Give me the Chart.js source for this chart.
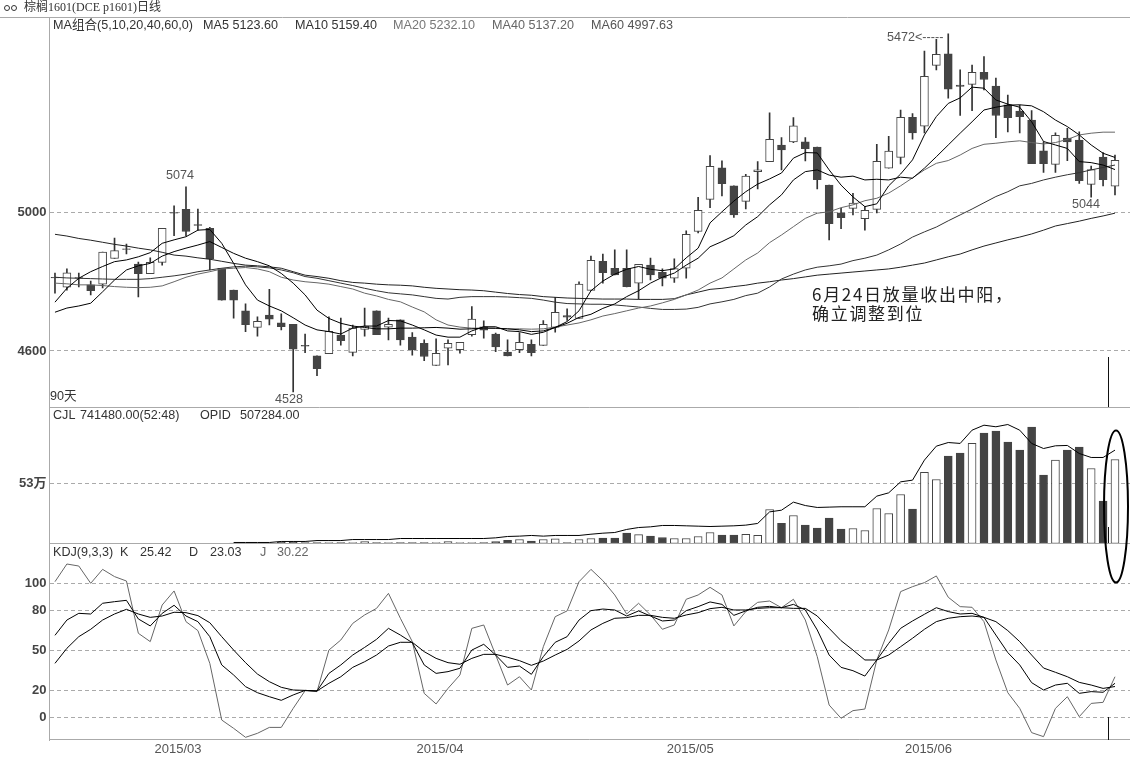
<!DOCTYPE html>
<html>
<head>
<meta charset="utf-8">
<title>棕榈1601 日线</title>
<script src="https://cdn.jsdelivr.net/npm/chart.js@4"></script>
<style>
  html, body { margin: 0; padding: 0; background: #fff; overflow: hidden; }
  #chart { display: block; }
</style>
</head>
<body>
<canvas id="chart" width="1130" height="758"></canvas>
<script>
// candles (index 0 = first of the 90 days)
const opens = [
  4813,4784,4812,4791,4793,4867,4895,4851,4823,4856,
  5000,5009,4965,4954,4839,4776,4716,4668,4704,4681,
  4677,4616,4586,4592,4646,4596,4662,4716,4669,4690,
  4640,4622,4558,4608,4604,4647,4670,4649,4597,4604,
  4619,4616,4668,4702,4694,4775,4859,4839,4839,4796,
  4848,4827,4810,4839,4945,5038,5129,5077,5032,5118,
  5147,5195,5204,5204,5189,5079,4999,5012,4982,5009,
  5128,5159,5275,5249,5425,5458,5368,5370,5405,5365,
  5311,5293,5267,5178,5139,5215,5209,5081,5160,5076];
const closes = [
  4811,4826,4810,4774,4886,4890,4893,4823,4856,4954,
  4998,4945,4963,4866,4747,4747,4676,4686,4692,4670,
  4605,4614,4549,4657,4630,4666,4672,4647,4677,4632,
  4604,4584,4593,4622,4625,4692,4660,4612,4586,4625,
  4595,4677,4712,4698,4793,4862,4826,4820,4786,4850,
  4820,4810,4838,4937,5006,5133,5083,4993,5105,5123,
  5211,5181,5250,5184,5095,4968,4985,5027,5006,5148,
  5177,5275,5230,5393,5457,5356,5364,5405,5384,5280,
  5274,5277,5141,5141,5223,5204,5092,5124,5095,5151];
const highs = [
  4825,4837,4825,4802,4886,4926,4909,4857,4869,4954,
  5019,5074,5010,4957,4839,4776,4736,4699,4778,4707,
  4677,4649,4586,4699,4695,4675,4724,4716,4695,4690,
  4653,4632,4635,4632,4625,4728,4687,4652,4632,4653,
  4632,4688,4755,4722,4800,4874,4880,4892,4892,4850,
  4868,4837,4866,4947,5044,5164,5149,5077,5110,5147,
  5288,5216,5274,5216,5189,5079,5012,5055,5017,5197,
  5220,5296,5286,5466,5500,5516,5412,5426,5450,5388,
  5339,5310,5294,5204,5230,5243,5233,5134,5173,5166];
const lows = [
  4767,4776,4785,4762,4782,4867,4880,4756,4823,4848,
  4933,4933,4949,4834,4747,4695,4656,4643,4675,4661,
  4482,4595,4529,4592,4617,4586,4643,4647,4632,4617,
  4588,4572,4558,4560,4594,4643,4637,4598,4586,4595,
  4586,4616,4654,4688,4694,4775,4796,4820,4785,4750,
  4805,4788,4798,4810,4941,5014,5048,4986,5010,5068,
  5147,5123,5202,5149,5068,4921,4953,4993,4949,4999,
  5128,5140,5212,5230,5412,5330,5280,5294,5354,5216,
  5233,5230,5141,5116,5116,5150,5084,5044,5077,5051];

const ma5 = [
  4741,4781,4810,4829,4844,4858,4863,4872,4884,4911,
  4921,4930,4949,4951,4911,4853,4791,4747,4730,4716,
  4696,4675,4661,4656,4649,4666,4672,4672,4688,4687,
  4675,4661,4646,4640,4640,4658,4670,4670,4658,4656,
  4648,4654,4668,4685,4716,4774,4802,4822,4836,4844,
  4836,4832,4837,4869,4897,4970,5002,5033,5060,5082,
  5097,5114,5157,5173,5172,5123,5079,5045,5017,5025,
  5077,5111,5152,5224,5277,5315,5331,5362,5359,5325,
  5313,5304,5262,5205,5195,5185,5147,5144,5137,5124];
const ma10 = [
  4712,4724,4730,4738,4771,4805,4834,4846,4853,4874,
  4887,4897,4906,4916,4899,4882,4868,4858,4846,4824,
  4796,4762,4718,4694,4680,4672,4668,4664,4664,4666,
  4666,4667,4668,4666,4663,4664,4666,4666,4664,4661,
  4656,4658,4668,4680,4697,4706,4723,4736,4757,4774,
  4796,4813,4825,4848,4868,4901,4916,4933,4964,4988,
  5022,5051,5094,5118,5123,5108,5102,5105,5094,5096,
  5094,5102,5099,5128,5161,5195,5229,5262,5296,5304,
  5310,5311,5308,5291,5267,5248,5224,5195,5171,5159];
const ma20 = [
  4796,4794,4791,4791,4789,4786,4784,4783,4784,4788,
  4800,4813,4822,4829,4837,4839,4841,4837,4829,4813,
  4805,4800,4797,4793,4786,4779,4767,4759,4749,4742,
  4727,4713,4690,4675,4669,4666,4666,4665,4664,4664,
  4663,4664,4669,4675,4681,4690,4701,4708,4716,4724,
  4730,4739,4749,4762,4776,4796,4811,4837,4863,4883,
  4913,4935,4959,4983,4998,5002,5014,5022,5034,5041,
  5056,5077,5100,5123,5142,5150,5166,5185,5197,5200,
  5204,5207,5202,5198,5202,5211,5224,5229,5232,5232];
const ma40 = [
  4813,4811,4810,4809,4808,4807,4807,4807,4809,4813,
  4817,4822,4829,4834,4839,4843,4845,4843,4840,4834,
  4826,4815,4810,4803,4796,4789,4781,4774,4768,4765,
  4762,4757,4752,4750,4755,4757,4757,4757,4756,4754,
  4752,4747,4741,4737,4736,4735,4735,4733,4730,4727,
  4723,4720,4720,4721,4726,4736,4742,4749,4760,4767,
  4785,4808,4822,4834,4842,4846,4851,4861,4868,4877,
  4892,4909,4929,4944,4958,4976,4993,5010,5028,5046,
  5060,5077,5084,5094,5102,5109,5115,5123,5130,5137];
const ma60 = [
  4937,4932,4925,4920,4914,4908,4903,4897,4892,4885,
  4877,4874,4869,4865,4859,4853,4848,4846,4843,4839,
  4829,4819,4815,4810,4803,4798,4796,4793,4791,4790,
  4788,4784,4781,4779,4777,4776,4774,4770,4766,4763,
  4761,4757,4755,4753,4752,4751,4750,4750,4750,4749,
  4749,4749,4751,4762,4770,4778,4781,4786,4790,4796,
  4800,4805,4809,4814,4819,4822,4825,4828,4831,4834,
  4837,4842,4848,4854,4863,4872,4880,4892,4903,4912,
  4921,4929,4938,4949,4961,4968,4975,4983,4990,4998];

// volume and open interest, in 万
const volume = [
  null,null,null,null,null,null,null,null,null,null,
  null,null,null,null,null,0.3,0.3,0.3,0.3,1.2,
  1.2,0.9,0.9,0.9,0.9,0.9,1.8,0.9,0.9,0.9,
  0.9,0.9,0.9,1.8,0.9,0.9,0.9,1.8,2.9,3.5,
  2.1,3.5,4.1,0.9,3.5,4.4,4.7,4.7,9.1,7.9,
  6.5,5.3,4.4,4.4,6.2,9.7,7.4,7.4,8.2,7.1,
  30,17.9,24.7,16.2,13.5,22.4,12.7,13.2,11.5,30.9,
  26.5,43.2,30.3,62.7,56.5,77.1,79.7,88.3,97.4,99.1,
  89.4,82.4,102.7,60.3,73.5,82.4,85,66.2,37.4,74.1];
const openInterest = [
  null,null,null,null,null,null,null,null,null,null,
  null,null,null,null,null,0.9,0.9,0.9,0.9,1.8,
  1.8,1.8,2.6,2.6,2.6,3.5,3.5,3.5,3.5,4.4,
  4.4,4.4,4.4,4.4,4.4,4.4,4.4,5,6.2,6.5,
  7.1,6.5,7.1,7.1,7.1,8.2,9.1,9.7,12.4,14.1,
  14.7,15.9,15.9,15.6,15.3,15,15.3,15.6,16.2,17.7,
  27.9,29.4,36.5,33.5,31.8,32.1,32.4,32.4,32.4,41.8,
  44.7,54.4,55.9,73.6,85.9,89.1,88.3,100,104.4,103,
  105,100,88.3,83.8,86.2,86.5,79.4,75.9,75.9,82.4];

const kLine = [
  61.2,72.6,77.6,77.1,85.1,86.3,87.3,73.4,68.2,77.6,
  83.6,75.6,71.4,60.2,39.1,31.6,22.9,18.4,15.4,12.7,
  16.7,20.1,19.7,32.8,39.1,46.5,52.2,58.2,66.4,61.4,
  55.7,39.1,32.8,34.1,36.6,50.2,54.5,46.5,37.3,38.3,
  32.1,45.3,56,60.2,72.6,79.6,80.8,80.1,75.6,79.4,
  75.6,71.9,72.6,79.6,82.6,86.1,84.3,76.1,79.4,82.1,
  82.8,81.8,84.3,80.1,65.2,46.5,37.3,34.8,30.8,42.8,
  55.2,66.4,71.9,76.9,81.8,78.9,77.1,77.6,74.6,61.4,
  48.3,39.1,25.9,20.4,24.1,25.4,17.9,19.2,18.7,25.4];
const dLine = [
  40.3,51.5,60.2,65.7,72.6,77.1,80.6,77.1,74.6,75.6,
  78.4,78.1,75.9,70.6,60.2,50.2,40.8,32.3,26.6,22.4,
  20.4,20.1,19.7,25.4,30.3,37.3,41.5,46.5,53.2,56,
  56,49,44,40.8,39.6,44,47,47,44.8,42.3,
  38.8,42,46.5,50.7,57,65.2,70.1,73.9,74.4,76.1,
  76.1,74.6,73.9,76.4,78.1,81.1,82.1,80.1,80.1,81.3,
  81.8,81.8,81.3,81.3,75.6,66.4,57.2,50.2,42.8,42.8,
  46.5,52.7,59,65.7,71.4,73.9,75.1,75.6,74.6,71.4,
  64.7,56.5,46.5,36.8,33.6,30.3,26.1,24.1,21.6,23];
const jLine = [
  101.2,114.4,112.9,100,110.4,105,101.7,62.7,56.5,83.8,
  94.3,71.4,64.7,40.3,-2,-8.2,-14.9,-11.9,-7.5,-7.5,
  6.7,19.9,19.2,50.2,57.7,70.1,76.4,81.3,92.5,73.9,
  56.5,17.9,10,21.6,31.6,66.4,68.9,46.5,24.1,30.3,
  20.4,52.7,75.1,79.4,101.2,110.4,102,91.3,77.1,85.1,
  76.4,65.7,68.9,88.1,91.3,97,91.3,68.2,78.9,85.8,
  86.8,81.8,88.1,72.6,45.3,9.2,-0.7,5,6.2,42.8,
  65.2,93.8,97.5,100.5,105.5,89.6,82.6,82.1,71.4,42.8,
  18.4,6.7,-11.4,-14.4,6.7,15.4,0.5,10.4,11.2,30.3];

const priceTicks = [4600, 5000];
const volumeTicks = [53];
const kdjTicks = [0, 20, 50, 80, 100];
const monthTicks = [10, 32, 53, 73];
const monthLabels = ["2015/03", "2015/04", "2015/05", "2015/06"];

const DARK = "#444";
const SANS = '"Liberation Sans", "Noto Sans CJK SC", sans-serif';
const HEAD = "12.6px " + SANS;
const NOTE = '17px "Noto Sans CJK SC"';

const days = opens.map((_, i) => i);
const isUp = (i) => closes[i] >= opens[i];

function lineSet(label, values, yAxisID, color) {
  return {
    type: "line",
    label,
    data: days.map((i) => ({ x: i, y: values[i] })),
    yAxisID,
    borderColor: color,
    borderWidth: 1,
    pointRadius: 0,
    tension: 0,
    order: 1
  };
}

function barSet(label, data, yAxisID, thickness, order, withFill) {
  return {
    type: "bar",
    label,
    data,
    yAxisID,
    grouped: false,
    barThickness: thickness,
    order,
    borderSkipped: false,
    borderWidth: withFill ? 1 : 0,
    borderColor: DARK,
    backgroundColor: withFill ? days.map((i) => (isUp(i) ? "#fff" : DARK)) : "#333"
  };
}

function fixedTicks(values) {
  return (scale) => { scale.ticks = values.map((value) => ({ value })); };
}

function paneAxis(min, max, weight, stackWeight, values, format) {
  return {
    type: "linear",
    position: "left",
    stack: "panes",
    stackWeight,
    weight,
    min,
    max,
    afterFit: (scale) => { scale.width = 49.5; },
    afterBuildTicks: fixedTicks(values),
    border: { color: "#aaa", dash: [4, 3] },
    grid: {
      color: "#aaa",
      drawTicks: false
    },
    ticks: {
      color: "#444",
      padding: 3,
      autoSkip: false,
      font: { family: SANS, size: 13, weight: "bold" },
      callback: format
    }
  };
}

// header lines, pick labels and the hand drawn notes on the picture
const texts = [
  ["棕榈1601(DCE p1601)日线", 24, 8, '12px "Liberation Serif", "Noto Sans CJK SC"', "#333"],
  ["MA组合(5,10,20,40,60,0)", 53, 26, HEAD, "#333"],
  ["MA5 5123.60", 203, 26, HEAD, "#333"],
  ["MA10 5159.40", 295, 26, HEAD, "#333"],
  ["MA20 5232.10", 393, 26, HEAD, "#777"],
  ["MA40 5137.20", 492, 26, HEAD, "#666"],
  ["MA60 4997.63", 591, 26, HEAD, "#555"],
  ["CJL", 53, 416, HEAD, "#333"],
  ["741480.00(52:48)", 80, 416, HEAD, "#333"],
  ["OPID", 200, 416, HEAD, "#333"],
  ["507284.00", 240, 416, HEAD, "#333"],
  ["KDJ(9,3,3)", 53, 553, HEAD, "#333"],
  ["K", 120, 553, HEAD, "#333"],
  ["25.42", 140, 553, HEAD, "#333"],
  ["D", 189, 553, HEAD, "#333"],
  ["23.03", 210, 553, HEAD, "#333"],
  ["J", 260, 553, HEAD, "#666"],
  ["30.22", 277, 553, HEAD, "#666"],
  ["5074", 166, 176, HEAD, "#555"],
  ["5472<-----", 887, 38, HEAD, "#555"],
  ["5044", 1072, 205, HEAD, "#555"],
  ["4528", 275, 400, HEAD, "#555"],
  ["90天", 50, 397, HEAD, "#333"],
  ["6月24日放量收出中阳，", 812, 295, NOTE, "#222", "1.7px"],
  ["确立调整到位", 812, 314, NOTE, "#222", "1.7px"]
];

const overlay = {
  id: "overlay",
  afterDraw(chart) {
    const { ctx, scales, chartArea } = chart;
    ctx.save();
    // frame lines between the panes, only the top one runs over the tick gutter
    ctx.strokeStyle = "#aaa";
    ctx.lineWidth = 1;
    [scales.yPrice.top, scales.yPrice.bottom, scales.yVol.bottom, scales.yKdj.bottom].forEach((y, n) => {
      const py = Math.round(y) - 0.5;
      ctx.beginPath();
      ctx.moveTo(n === 0 ? 0 : chartArea.left, py);
      ctx.lineTo(chartArea.right, py);
      ctx.stroke();
    });
    // cursor marks
    ctx.strokeStyle = "#111";
    [[357, 407], [527, 543], [717, 740]].forEach(([a, b]) => {
      ctx.beginPath();
      ctx.moveTo(1108.5, a);
      ctx.lineTo(1108.5, b);
      ctx.stroke();
    });
    // the ring around the last day
    ctx.strokeStyle = "#000";
    ctx.lineWidth = 2;
    ctx.beginPath();
    ctx.ellipse(1116, 506.5, 12, 76, 0, 0, Math.PI * 2);
    ctx.stroke();
    // link icon in the title
    ctx.lineWidth = 1;
    ctx.strokeStyle = "#333";
    [7, 14].forEach((x) => {
      ctx.beginPath();
      ctx.arc(x, 8, 2.5, 0, Math.PI * 2);
      ctx.stroke();
    });
    ctx.textBaseline = "middle";
    ctx.textAlign = "left";
    texts.forEach(([text, x, y, font, color, spacing]) => {
      ctx.font = font;
      ctx.fillStyle = color;
      ctx.letterSpacing = spacing || "0px";
      ctx.fillText(text, x, y);
    });
    ctx.restore();
  }
};

new Chart(document.getElementById("chart"), {
  data: {
    datasets: [
      lineSet("MA5", ma5, "yPrice", "#000"),
      lineSet("MA10", ma10, "yPrice", "#000"),
      lineSet("MA20", ma20, "yPrice", "#666"),
      lineSet("MA40", ma40, "yPrice", "#333"),
      lineSet("MA60", ma60, "yPrice", "#222"),
      barSet("Body", days.map((i) => ({ x: i, y: [opens[i], closes[i]] })), "yPrice", 8, 10, true),
      barSet("Wick", days.map((i) => ({ x: i, y: [lows[i], highs[i]] })), "yPrice", 1, 20, false),
      lineSet("OPID", openInterest, "yVol", "#000"),
      barSet("CJL", days.map((i) => ({ x: i, y: volume[i] })), "yVol", 8, 10, true),
      lineSet("K", kLine, "yKdj", "#000"),
      lineSet("D", dLine, "yKdj", "#000"),
      lineSet("J", jLine, "yKdj", "#666")
    ]
  },
  plugins: [overlay],
  options: {
    responsive: false,
    animation: false,
    devicePixelRatio: 1,
    layout: { padding: { top: 18, left: 0, right: 0, bottom: 0 } },
    plugins: { legend: { display: false }, tooltip: { enabled: false }, title: { display: false } },
    scales: {
      x: {
        type: "linear",
        offset: false,
        min: -0.46,
        max: 90.26,
        afterFit: (scale) => { scale.height = 18; },
        afterBuildTicks: fixedTicks(monthTicks),
        grid: { display: false, offset: false, drawTicks: false },
        border: { display: false },
        ticks: {
          color: "#555",
          padding: 2,
          maxRotation: 0,
          autoSkip: false,
          labelOffset: 4,
          font: { family: SANS, size: 13 },
          callback: (value) => monthLabels[monthTicks.indexOf(value)]
        }
      },
      yPrice: paneAxis(4436.8, 5561.7, 3, 389.5, priceTicks, (v) => String(v)),
      yVol: paneAxis(0, 120, 2, 136, volumeTicks, (v) => v + "万"),
      yKdj: paneAxis(-16.9, 129.7, 1, 196.5, kdjTicks, (v) => String(v))
    }
  }
});
</script>
</body>
</html>
